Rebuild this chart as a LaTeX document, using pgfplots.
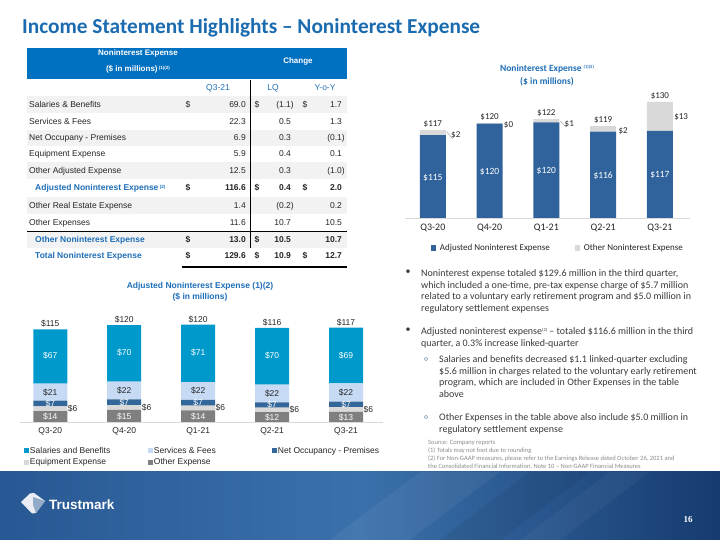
\documentclass[border=0pt]{standalone}
\usepackage{pgfplots}
\pgfplotsset{compat=1.18}
\usepackage{fontspec}
\setmainfont{Carlito}
\newfontfamily\arial{Liberation Sans}
\newfontfamily\tnr{Liberation Serif}
\definecolor{titleblue}{HTML}{1A6BB0}
\definecolor{hdrblue}{HTML}{0070C0}
\definecolor{tblue}{HTML}{1F6FB8}
\definecolor{barblue}{HTML}{30639B}
\definecolor{lgray}{HTML}{D9D9D9}
\definecolor{salc}{HTML}{0099CC}
\definecolor{servc}{HTML}{C6DBF3}
\definecolor{occc}{HTML}{336699}
\definecolor{othc}{HTML}{7F7F7F}
\definecolor{rowgray}{HTML}{F2F2F2}
\definecolor{txt}{HTML}{262626}
\definecolor{btxt}{HTML}{3A3A3A}
\definecolor{srcgray}{HTML}{8C8C8C}
\definecolor{subc}{HTML}{7F9DB9}
\definecolor{footL}{HTML}{285893}
\definecolor{footM}{HTML}{3B71AB}
\definecolor{footR}{HTML}{163B70}
\tikzset{
 tf/.style={font=\arial\fontsize{8.5}{10}\selectfont, text=txt, inner sep=0pt},
 tfb/.style={font=\arial\bfseries\fontsize{8.5}{10}\selectfont, text=txt, inner sep=0pt},
 tbl/.style={font=\arial\bfseries\fontsize{8.5}{10}\selectfont, text=tblue, inner sep=0pt},
 hf/.style={font=\arial\bfseries\fontsize{8}{9}\selectfont, text=white, inner sep=0pt},
 lab/.style={font=\fontsize{9}{10}\selectfont, text=txt, inner sep=0pt},
 labw/.style={font=\fontsize{9.5}{10}\selectfont, text=white, inner sep=0pt},
 bk/.style={font=\arial\fontsize{8.5}{10}\selectfont, text=txt, inner sep=0pt},
 bw/.style={font=\arial\fontsize{8.5}{10}\selectfont, text=white, inner sep=0pt},
 bt/.style={font=\fontsize{10}{12}\selectfont, text=btxt, inner sep=0pt, anchor=base west},
 src/.style={font=\fontsize{6.5}{7.5}\selectfont, text=srcgray, inner sep=0pt, anchor=base west},
}
\pgfplotsset{
 sqA/.style={legend image code/.code={\fill[##1] (0pt,-2.6pt) rectangle (5.2pt,2.6pt); \path (9pt,0pt);}},
 sqB/.style={legend image code/.code={\fill[##1] (0pt,-2.4pt) rectangle (4.8pt,2.4pt); \path (6pt,0pt);}},
}
\newcommand\tlabel[4]{\node[#3,anchor=base west] at (#2,537-#1) {#4};}
\newcommand\tnums[8]{%
 \node[#2,anchor=base] at (188,537-#1) {#3};
 \node[#2,anchor=base east] at (246,537-#1) {#4};
 \node[#2,anchor=base] at (257,537-#1) {#5};
 \node[#2,anchor=base east] at (294,537-#1) {#6};
 \node[#2,anchor=base] at (305,537-#1) {#7};
 \node[#2,anchor=base east] at (345,537-#1) {#8};}
\def\p{\phantom{)}}
\newcommand\supx[1]{\raisebox{2.6pt}{\fontsize{4.5}{5}\selectfont #1}}
\begin{document}
\begin{tikzpicture}[x=1pt,y=1pt]
\useasboundingbox (0,0) rectangle (720,540);
\fill[white] (0,0) rectangle (720,540);
% title
\node[anchor=base west, inner sep=0pt, font=\bfseries\fontsize{21.3}{23}\selectfont, text=titleblue] at (22,506) {Income Statement Highlights -- Noninterest Expense};
% ---------- table ----------
\fill[hdrblue] (27,540-48) rectangle (347,540-79.5);
\node[hf] at (138,540-53) {Noninterest Expense};
\node[hf] at (138,540-69.5) {(\$ in millions)\,\supx{(1)(2)}};
\node[hf] at (298,540-61.5) {Change};
\node[tf,text=tblue,anchor=base] at (218,537-88) {Q3-21};
\node[tf,text=tblue,anchor=base] at (273,537-88) {LQ};
\node[tf,text=tblue,anchor=base] at (325,537-88) {Y-o-Y};
\fill[rowgray] (27,540-96.5) rectangle (347,540-113.5);
\fill[rowgray] (27,540-130) rectangle (347,540-146);
\fill[rowgray] (27,540-162.5) rectangle (347,540-179.5);
\fill[rowgray] (27,540-197) rectangle (347,540-214.5);
\fill[rowgray] (27,540-231.5) rectangle (347,540-248);
\draw[black, line width=0.9pt] (250,540-80) -- (250,540-248);
\draw[black, line width=1pt] (27,540-231.5) -- (347,540-231.5);
\draw[black, line width=1.2pt] (182,540-267) -- (347,540-267);
\tlabel{105}{29}{tf}{Salaries \& Benefits}\tnums{105}{tf}{\$}{69.0}{\$}{(1.1)}{\$}{1.7\p}
\tlabel{122}{29}{tf}{Services \& Fees}\tnums{122}{tf}{}{22.3}{}{0.5\p}{}{1.3\p}
\tlabel{138}{29}{tf}{Net Occupany - Premises}\tnums{138}{tf}{}{6.9}{}{0.3\p}{}{(0.1)}
\tlabel{154}{29}{tf}{Equipment Expense}\tnums{154}{tf}{}{5.9}{}{0.4\p}{}{0.1\p}
\tlabel{171}{29}{tf}{Other Adjusted Expense}\tnums{171}{tf}{}{12.5}{}{0.3\p}{}{(1.0)}
\tlabel{188}{35}{tbl}{Adjusted Noninterest Expense\,\supx{(2)}}\tnums{188}{tfb}{\$}{116.6}{\$}{0.4\p}{\$}{2.0\p}
\tlabel{206}{29}{tf}{Other Real Estate Expense}\tnums{206}{tf}{}{1.4}{}{(0.2)}{}{0.2\p}
\tlabel{223}{29}{tf}{Other Expenses}\tnums{223}{tf}{}{11.6}{}{10.7\p}{}{10.5\p}
\tlabel{240}{35}{tbl}{Other Noninterest Expense}\tnums{240}{tfb}{\$}{13.0}{\$}{10.5\p}{}{10.7\p}
\tlabel{256}{35}{tbl}{Total Noninterest Expense}\tnums{256}{tfb}{\$}{129.6}{\$}{10.9\p}{\$}{12.7\p}
% ---------- top right chart ----------
\node[font=\bfseries\fontsize{9.5}{11}\selectfont, text=tblue, inner sep=0pt] at (547,540-69) {Noninterest Expense \supx{(1)(2)}};
\node[font=\bfseries\fontsize{9.5}{11}\selectfont, text=tblue, inner sep=0pt] at (547,540-82) {(\$ in millions)};
\begin{axis}[at={(405pt,322pt)}, anchor=south west, scale only axis,
 width=285pt, height=139.4pt, xmin=-0.49, xmax=4.53, ymin=77.5, ymax=140,
 ybar stacked, bar width=26pt,
 axis x line*=bottom, axis y line=none,
 x axis line style={draw=lgray, line width=0.8pt, -},
 xtick={0,1,2,3,4}, xticklabels={Q3-20,Q4-20,Q1-21,Q2-21,Q3-21},
 major tick length=0pt, xtick style={draw=none},
 xticklabel style={font=\fontsize{10}{11}\selectfont, text=txt, yshift=-2pt},
 ytick=\empty, clip mode=individual,
 every axis plot post/.append style={sqA},
 legend columns=2, legend cell align=left,
 legend style={draw=none, fill=none, inner sep=0pt, outer sep=0pt, at={(0.091,-0.215)}, anchor=west,
   font=\fontsize{9}{10}\selectfont, text=txt, column sep=0pt, nodes={inner sep=0pt, outer sep=0pt}},
]
\addplot[fill=barblue, draw=none]
 coordinates {(0,114.6) (1,119.8) (2,120.4) (3,116.2) (4,116.6)};
\addlegendentry{\makebox[135pt][l]{Adjusted Noninterest Expense\vphantom{Qy}}}
\addplot[fill=lgray, draw=none]
 coordinates {(0,2.3) (1,0.3) (2,1.4) (3,2.5) (4,13.0)};
\addlegendentry{Other Noninterest Expense\vphantom{Qy}}
% totals
\node[lab,anchor=south,yshift=2.5pt] at (axis cs:0,116.9) {\$117};
\node[lab,anchor=south,yshift=2.5pt] at (axis cs:1,120.1) {\$120};
\node[lab,anchor=south,yshift=2.5pt] at (axis cs:2,121.8) {\$122};
\node[lab,anchor=south,yshift=2.5pt] at (axis cs:3,118.7) {\$119};
\node[lab,anchor=south,yshift=2.5pt] at (axis cs:4,129.6) {\$130};
% inner label anchors
\coordinate (ti0) at (axis cs:0,95.6);
\coordinate (ti1) at (axis cs:1,98.3);
\coordinate (ti2) at (axis cs:2,98.7);
\coordinate (ti3) at (axis cs:3,96.4);
\coordinate (ti4) at (axis cs:4,96.8);
% other labels
\node[lab,anchor=west] at (axis cs:0.32,114.7) {\$2};
\node[lab,anchor=west] at (axis cs:1.25,119.2) {\$0};
\node[lab,anchor=west] at (axis cs:2.32,119.6) {\$1};
\node[lab,anchor=west] at (axis cs:3.27,116.5) {\$2};
\node[lab,anchor=west] at (axis cs:4.25,122.8) {\$13};
\draw[gray!70, line width=0.5pt] (axis cs:0.245,116.2) -- (axis cs:0.35,112.9);
\draw[gray!70, line width=0.5pt] (axis cs:2.245,121.0) -- (axis cs:2.35,118.3);
\end{axis}
\node[labw] at (ti0) {\$115};
\node[labw] at (ti1) {\$120};
\node[labw] at (ti2) {\$120};
\node[labw] at (ti3) {\$116};
\node[labw] at (ti4) {\$117};
% ---------- bottom left chart ----------
\node[font=\arial\bfseries\fontsize{8.5}{10}\selectfont, text=tblue, inner sep=0pt] at (200,540-286) {Adjusted Noninterest Expense (1)(2)};
\node[font=\arial\bfseries\fontsize{8.5}{10}\selectfont, text=tblue, inner sep=0pt] at (200,540-297) {(\$ in millions)};
\begin{axis}[at={(20pt,118pt)}, anchor=south west, scale only axis,
 width=363pt, height=105.2pt, xmin=-0.41, xmax=4.5, ymin=0, ymax=130,
 ybar stacked, bar width=34pt,
 axis x line*=bottom, axis y line=none,
 x axis line style={draw=lgray, line width=0.8pt, -},
 xtick={0,1,2,3,4}, xticklabels={Q3-20,Q4-20,Q1-21,Q2-21,Q3-21},
 major tick length=0pt, xtick style={draw=none},
 xticklabel style={font=\arial\fontsize{8.5}{10}\selectfont, text=txt, yshift=-2pt},
 ytick=\empty, clip=false,
 every axis plot post/.append style={sqB},
 legend columns=3, reverse legend, legend cell align=left,
 legend style={draw=none, fill=none, inner sep=0pt, outer sep=0pt, at={(0.011,-0.238)}, anchor=north west,
   font=\arial\fontsize{8.5}{10}\selectfont, text=txt, column sep=0pt, row sep=4pt, nodes={inner sep=0pt, outer sep=0pt}},
]
\addplot[fill=othc, draw=none]
 coordinates {(0,13.5) (1,15.0) (2,14.4) (3,12.2) (4,12.5)};
\addlegendentry{\makebox[118pt][l]{Other Expense\vphantom{Qy}}}
\addplot[fill=lgray, draw=none]
 coordinates {(0,5.8) (1,6.0) (2,5.9) (3,5.5) (4,5.9)};
\addlegendentry{\makebox[118pt][l]{Equipment Expense\vphantom{Qy}}}
\addplot[fill=occc, draw=none]
 coordinates {(0,7.0) (1,7.0) (2,7.0) (3,6.6) (4,6.9)};
\addlegendentry{Net Occupancy - Premises\vphantom{Qy}}
\addplot[fill=servc, draw=none]
 coordinates {(0,21.0) (1,22.0) (2,21.9) (3,21.8) (4,22.3)};
\addlegendentry{\makebox[118pt][l]{Services \& Fees\vphantom{Qy}}}
\addplot[fill=salc, draw=none]
 coordinates {(0,67.3) (1,69.8) (2,71.2) (3,70.1) (4,69.0)};
\addlegendentry{\makebox[118pt][l]{Salaries and Benefits\vphantom{Qy}}}
% totals
\node[bk,anchor=south,yshift=1.5pt] at (axis cs:0,114.6) {\$115};
\node[bk,anchor=south,yshift=1.5pt] at (axis cs:1,119.8) {\$120};
\node[bk,anchor=south,yshift=1.5pt] at (axis cs:2,120.4) {\$120};
\node[bk,anchor=south,yshift=1.5pt] at (axis cs:3,116.2) {\$116};
\node[bk,anchor=south,yshift=1.5pt] at (axis cs:4,116.6) {\$117};
% segment label anchors
\coordinate (s0) at (axis cs:0,81.5); \coordinate (s1) at (axis cs:1,85.4); \coordinate (s2) at (axis cs:2,85.3); \coordinate (s3) at (axis cs:3,81.6); \coordinate (s4) at (axis cs:4,82.6);
\coordinate (v0) at (axis cs:0,36.8); \coordinate (v1) at (axis cs:1,39.0); \coordinate (v2) at (axis cs:2,38.2); \coordinate (v3) at (axis cs:3,35.2); \coordinate (v4) at (axis cs:4,36.4);
\coordinate (o0) at (axis cs:0,22.8); \coordinate (o1) at (axis cs:1,24.5); \coordinate (o2) at (axis cs:2,23.8); \coordinate (o3) at (axis cs:3,21.0); \coordinate (o4) at (axis cs:4,21.8);
\coordinate (x0) at (axis cs:0,6.0); \coordinate (x1) at (axis cs:1,6.8); \coordinate (x2) at (axis cs:2,6.5); \coordinate (x3) at (axis cs:3,5.4); \coordinate (x4) at (axis cs:4,5.6);
% equipment
\node[bk,anchor=west] at (axis cs:0.235,16.4) {\$6};
\node[bk,anchor=west] at (axis cs:1.235,18.0) {\$6};
\node[bk,anchor=west] at (axis cs:2.235,17.3) {\$6};
\node[bk,anchor=west] at (axis cs:3.235,15.0) {\$6};
\node[bk,anchor=west] at (axis cs:4.235,15.4) {\$6};
\end{axis}
\node[bw] at (s0) {\$67}; \node[bw] at (s1) {\$70}; \node[bw] at (s2) {\$71}; \node[bw] at (s3) {\$70}; \node[bw] at (s4) {\$69};
\node[bk] at (v0) {\$21}; \node[bk] at (v1) {\$22}; \node[bk] at (v2) {\$22}; \node[bk] at (v3) {\$22}; \node[bk] at (v4) {\$22};
\node[bw] at (o0) {\$7}; \node[bw] at (o1) {\$7}; \node[bw] at (o2) {\$7}; \node[bw] at (o3) {\$7}; \node[bw] at (o4) {\$7};
\node[bw] at (x0) {\$14}; \node[bw] at (x1) {\$15}; \node[bw] at (x2) {\$14}; \node[bw] at (x3) {\$12}; \node[bw] at (x4) {\$13};
% ---------- bullets ----------
\node[font=\fontsize{10}{12}\selectfont, text=btxt, inner sep=0pt] at (408,540-272.5) {\textbullet};
\node[bt] at (421,536.5-273) {Noninterest expense totaled \$129.6 million in the third quarter,};
\node[bt] at (421,536.5-284.7) {which included a one-time, pre-tax expense charge of \$5.7 million};
\node[bt] at (421,536.5-296.4) {related to a voluntary early retirement program and \$5.0 million in};
\node[bt] at (421,536.5-308.1) {regulatory settlement expenses};
\node[font=\fontsize{10}{12}\selectfont, text=btxt, inner sep=0pt] at (408,540-330.5) {\textbullet};
\node[bt] at (421,536.5-331) {Adjusted noninterest expense\supx{(2)} -- totaled \$116.6 million in the third};
\node[bt] at (421,536.5-342.7) {quarter, a 0.3\% increase linked-quarter};
\draw[subc, line width=0.6pt] (426,540-359) circle (1.8pt);
\node[bt] at (439,536.5-359) {Salaries and benefits decreased \$1.1 linked-quarter excluding};
\node[bt] at (439,536.5-370.7) {\$5.6 million in charges related to the voluntary early retirement};
\node[bt] at (439,536.5-382.4) {program, which are included in Other Expenses in the table};
\node[bt] at (439,536.5-394.1) {above};
\draw[subc, line width=0.6pt] (426,540-417) circle (1.8pt);
\node[bt] at (439,536.5-417) {Other Expenses in the table above also include \$5.0 million in};
\node[bt] at (439,536.5-428.7) {regulatory settlement expense};
\node[src] at (428,538-443) {Source: Company reports};
\node[src] at (428,538-450.7) {(1) Totals may not foot due to rounding};
\node[src] at (428,538-458.4) {(2) For Non-GAAP measures, please refer to the Earnings Release dated October 26, 2021 and};
\node[src] at (428,538-466.1) {the Consolidated Financial Information, Note 10 -- Non-GAAP Financial Measures};
% ---------- footer ----------
\shade[left color=footL, right color=footR, middle color=footM] (0,0) rectangle (720,68);
\fill[white, opacity=0.05] (330,0) -- (410,0) -- (500,68) -- (420,68) -- cycle;
\fill[black, opacity=0.06] (440,0) -- (500,0) -- (590,68) -- (530,68) -- cycle;
\fill[white, opacity=0.04] (520,0) -- (560,0) -- (650,68) -- (610,68) -- cycle;
\fill[white, opacity=0.9] (21,540-502) -- (30,540-493.5) -- (34,540-493) -- (45,540-501) -- (36,540-513) -- (32,540-513.5) -- cycle;
\fill[footL!60!white, opacity=0.8] (33,540-497) -- (45,540-501) -- (36,540-513) -- (33,540-505) -- cycle;
\node[anchor=west, inner sep=0pt, font=\arial\bfseries\fontsize{13.5}{15}\selectfont, text=white] at (49,540-505) {Trustmark};
\node[inner sep=0pt, font=\tnr\bfseries\fontsize{9}{10}\selectfont, text=white] at (688,540-520) {16};
\end{tikzpicture}
\end{document}
